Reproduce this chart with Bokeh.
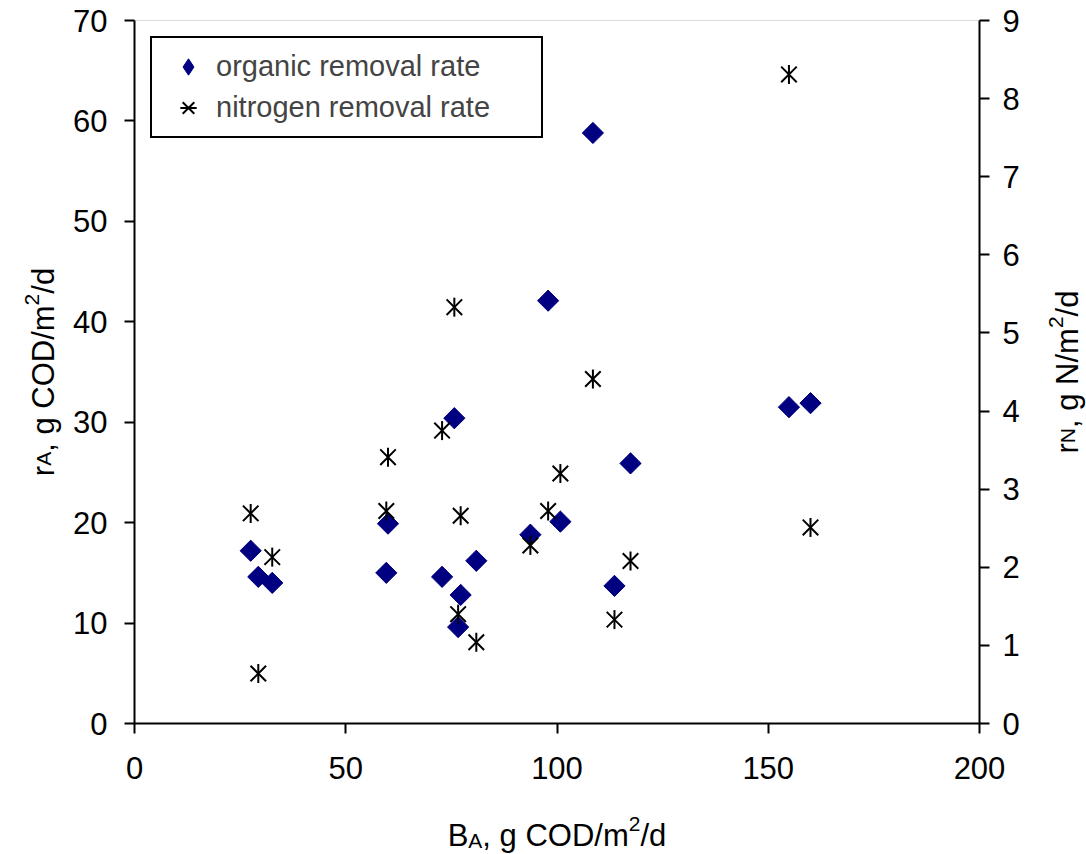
import math
from bokeh.plotting import figure
from bokeh.models import (Range1d, LinearAxis, FixedTicker, Label, Legend,
                          LegendItem, BoxAnnotation)
from bokeh.embed import file_html
from bokeh.resources import INLINE

# ---------------- data ----------------
B_A = [27.5, 29.3, 32.6, 59.6, 60.0, 72.8, 75.7, 76.6, 77.2, 80.9,
       93.7, 97.9, 100.8, 108.5, 113.6, 117.4, 154.9, 160.0]
r_A = [17.2, 14.6, 14.0, 15.0, 19.9, 14.6, 30.4, 9.6, 12.8, 16.2,
       18.8, 42.1, 20.1, 58.8, 13.7, 25.9, 31.5, 31.9]
r_N = [2.69, 0.64, 2.13, 2.72, 3.41, 3.75, 5.33, 1.40, 2.66, 1.04,
       2.28, 2.72, 3.20, 4.41, 1.33, 2.08, 8.31, 2.51]

x_ticks = [0, 50, 100, 150, 200]
yl_ticks = [0, 10, 20, 30, 40, 50, 60, 70]
yr_ticks = [0, 1, 2, 3, 4, 5, 6, 7, 8, 9]

series_names = ["organic removal rate", "nitrogen removal rate"]

FONT = "Liberation Sans"
TICK_SIZE = "31px"

# ---------------- layout (pixels) ----------------
CW, CH = 1086, 854
PL, PR, PT, PB = 134, 979, 20, 723      # plot-area edges on the canvas

x0, x1 = x_ticks[0], x_ticks[-1]
y0, y1 = yl_ticks[0], yl_ticks[-1]
kx = (x1 - x0) / (PR - PL)
ky = (y1 - y0) / (PB - PT)
xr = Range1d(x0 - PL * kx, x1 + (CW - PR) * kx)
yr = Range1d(y0 - (CH - PB) * ky, y1 + PT * ky)
rf = yr_ticks[-1] / yl_ticks[-1]
yr2 = Range1d(yr.start * rf, yr.end * rf)

p = figure(width=CW, height=CH, min_border=0,
           min_border_left=0, min_border_right=0,
           min_border_top=0, min_border_bottom=0,
           x_range=xr, y_range=yr,
           output_backend="svg", toolbar_location=None, tools="",
           x_axis_location=None, y_axis_location=None)
p.extra_y_ranges = {"right": yr2}
p.grid.visible = False
p.outline_line_color = None
p.background_fill_color = "white"
p.border_fill_color = "white"

# plot-area frame (grey top edge), under the axes
frame_box = BoxAnnotation(left=x0, right=x1, bottom=y0, top=y1,
                          fill_alpha=0, line_color="#8c8c8c", line_width=1,
                          level="underlay")
p.add_layout(frame_box)

xaxis = LinearAxis(ticker=FixedTicker(ticks=x_ticks), fixed_location=y0,
                   bounds=(x0, x1))
yaxis = LinearAxis(ticker=FixedTicker(ticks=yl_ticks), fixed_location=x0,
                   bounds=(y0, y1))
raxis = LinearAxis(ticker=FixedTicker(ticks=yr_ticks), fixed_location=x1,
                   y_range_name="right", bounds=(yr_ticks[0], yr_ticks[-1]))
p.add_layout(xaxis, "below")
p.add_layout(yaxis, "left")
p.add_layout(raxis, "right")

for ax in (xaxis, yaxis, raxis):
    ax.axis_line_width = 2
    ax.axis_line_color = "black"
    ax.major_tick_line_width = 2
    ax.major_tick_line_color = "black"
    ax.major_tick_out = 10
    ax.major_tick_in = 0
    ax.minor_tick_line_color = None
    ax.major_label_text_font = FONT
    ax.major_label_text_font_size = TICK_SIZE
    ax.major_label_text_color = "black"
xaxis.major_label_standoff = 23
yaxis.major_label_standoff = 17
raxis.major_label_standoff = 13

# narrow diamond under the rotated square: only serves as the legend key
key1 = p.scatter(B_A, r_A, marker="diamond", size=20,
                 fill_color="#000080", line_color="#000080")
r1 = p.scatter(B_A, r_A, marker="square", angle=math.pi / 4, size=15,
               fill_color="#000080", line_color="#000080")
r2 = p.scatter(B_A, r_N, marker="x", size=22, line_color="black",
               line_width=2, y_range_name="right")
r3 = p.scatter(B_A, r_N, marker="dash", angle=math.pi / 2, size=19,
               line_color="black", line_width=2, y_range_name="right")

legend = Legend(items=[LegendItem(label=series_names[0], renderers=[key1]),
                       LegendItem(label=series_names[1], renderers=[r2, r3])],
                location=(150, CH - 138))
legend.label_text_font = FONT
legend.label_text_font_size = "29px"
legend.border_line_color = "black"
legend.border_line_width = 2
legend.border_line_alpha = 1
legend.background_fill_color = "white"
legend.background_fill_alpha = 1
legend.padding = 8
legend.spacing = 0
legend.glyph_width = 56
legend.glyph_height = 41
legend.label_height = 41
legend.label_standoff = 0
legend.label_width = 317
legend.margin = 0
p.add_layout(legend)

# ---------------- axis titles with sub/superscripts ----------------
W = {' ': 278, ',': 278, '/': 278, 'r': 333, 'g': 556, 'd': 556, 'm': 833,
     'C': 722, 'O': 778, 'D': 722, 'N': 722, 'A': 667, 'B': 667, '2': 556}


def tw(s, size):
    return sum(W.get(c, 556) for c in s) * size / 1000.0


BIG, SMALL = 31, 21


def rich_label(parts, cx, cy, vertical):
    total = sum(tw(t, s) for t, s, _ in parts)
    pos = (cy if vertical else cx) - total / 2
    for t, s, shift in parts:
        if vertical:
            lab = Label(x=cx - shift, y=pos, angle=math.pi / 2)
        else:
            lab = Label(x=pos, y=cy + shift, angle=0)
        lab.x_units = "screen"
        lab.y_units = "screen"
        lab.text = t
        lab.text_font = FONT
        lab.text_font_size = f"{s}px"
        lab.text_color = "black"
        lab.text_align = "left"
        lab.text_baseline = "alphabetic"
        p.add_layout(lab)
        pos += tw(t, s)


midx = (PL + PR) / 2
midy = CH - (PT + PB) / 2
# screen coords: origin at canvas bottom-left, y up
rich_label([("B", BIG, 0), ("A", SMALL, -5), (", g COD/m", BIG, 0),
            ("2", SMALL, 12), ("/d", BIG, 0)], midx, CH - 835, False)
rich_label([("r", BIG, 0), ("A", SMALL, 0), (", g COD/m", BIG, 0),
            ("2", SMALL, 12), ("/d", BIG, 0)], 43, midy, True)
rich_label([("r", BIG, 0), ("N", SMALL, 0), (", g N/m", BIG, 0),
            ("2", SMALL, 12), ("/d", BIG, 0)], 1067, midy, True)

open("out.html", "w").write(file_html(p, INLINE))
